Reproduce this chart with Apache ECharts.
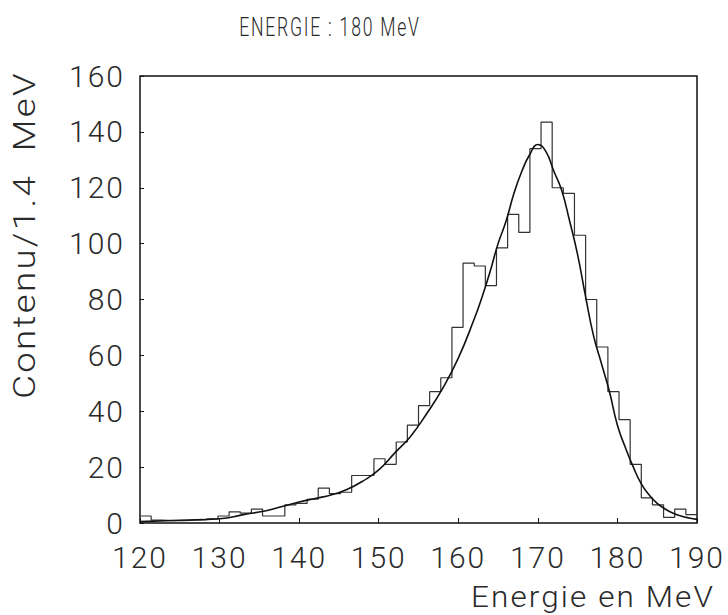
<!DOCTYPE html>
<html>
<head>
<meta charset="UTF-8" />
<title></title>
<style type="text/css">
  * { margin: 0; padding: 0; }
  #main { width: 728px; height: 615px; background-color: #fff; }
  /* espacement large des caracteres, comme sur le trace d'origine */
  #main text { letter-spacing: 2px; }
</style>
</head>
<body>
<div id="main"></div>
<script src="https://cdn.jsdelivr.net/npm/echarts@6/dist/echarts.min.js"></script>
<script type="text/javascript">
// histogramme : 50 canaux de 1.4 MeV a partir de 120 MeV
var binStart = 120
var binWidth = 1.4
var counts = [
  2.5, 1, 0.8, 0.8, 1, 1.2, 1.5, 2.5, 4, 3.5,
  5, 2.5, 2.5, 6.5, 7, 8.5, 12.5, 10.5, 11, 17,
  17, 23, 21, 29, 35, 42, 47, 52, 70, 93,
  92, 85, 98.5, 110.5, 104, 134, 143.5, 120, 118, 103,
  80, 63, 47, 37, 21, 9, 6.5, 2, 5, 3
]

// courbe d'ajustement
var fitX = [120, 125, 130, 133, 136, 138, 140, 142, 144, 146, 148, 150, 152, 154, 156, 158, 160,
  162, 163, 164, 165, 166, 167, 168, 169, 170, 171, 172, 173, 174, 175, 176, 177, 178, 179,
  180, 181, 182, 183, 184, 185, 186, 187, 188, 189, 190]
var fitY = [0.5, 1, 1.5, 3, 4.5, 6, 7.5, 8.8, 10, 12, 15, 19, 25, 31, 39, 48, 59,
  73, 81, 90, 100, 108, 118, 126, 132, 135.5, 133, 126, 119, 108, 96, 81, 67, 57, 47,
  35, 27, 20, 14, 10, 7, 5, 3.5, 2.5, 1.8, 1.3]

var xTicks = [120, 130, 140, 150, 160, 170, 180, 190]
var yTicks = [0, 20, 40, 60, 80, 100, 120, 140, 160]

var histData = counts.map(function (v, i) {
  return [binStart + i * binWidth, v]
})
histData.push([binStart + counts.length * binWidth, counts[counts.length - 1]])

var fitData = fitX.map(function (x, i) { return [x, fitY[i]] })

var font = 'Roboto'
var txt = '#2a2a2a'
var myChart = echarts.init(document.getElementById('main'), null, { renderer: 'svg' })

var option = {
  backgroundColor: '#fff',
  animation: false,
  grid: {
    left: 140, right: 31, top: 76, bottom: 92,
    show: true, borderColor: '#111', borderWidth: 1.5, backgroundColor: 'transparent'
  },
  xAxis: {
    type: 'value',
    min: xTicks[0],
    max: xTicks[xTicks.length - 1],
    interval: 10,
    axisLine: { show: false },
    axisTick: { show: true, inside: true, length: 5, lineStyle: { color: '#111' } },
    splitLine: { show: false },
    axisLabel: { margin: 19, fontFamily: font, fontWeight: 300, fontSize: 30, color: txt }
  },
  yAxis: {
    type: 'value',
    min: yTicks[0],
    max: yTicks[yTicks.length - 1],
    interval: 20,
    axisLine: { show: false },
    axisTick: { show: true, inside: true, length: 4, lineStyle: { color: '#111' } },
    splitLine: { show: false },
    axisLabel: { margin: 15, fontFamily: font, fontWeight: 300, fontSize: 30, color: txt }
  },
  graphic: [{
    // titre : lettres hautes et etroites
    type: 'text',
    x: 330, y: 27,
    scaleX: 0.88, scaleY: 1.25,
    style: {
      text: 'ENERGIE : 180 MeV',
      font: '300 20px ' + font,
      fill: txt,
      textAlign: 'center', textVerticalAlign: 'middle',
      align: 'center', verticalAlign: 'middle'
    }
  }, {
    type: 'text',
    x: 24, y: 235,
    rotation: Math.PI / 2,
    scaleX: 1.18,
    style: {
      text: 'Contenu/1.4  MeV',
      font: '300 31px ' + font,
      fill: txt,
      textAlign: 'center', textVerticalAlign: 'middle',
      align: 'center', verticalAlign: 'middle'
    }
  }, {
    type: 'text',
    x: 715, y: 597,
    scaleX: 1.05,
    style: {
      text: 'Energie en MeV',
      font: '300 30px ' + font,
      fill: txt,
      textAlign: 'right', textVerticalAlign: 'middle',
      align: 'right', verticalAlign: 'middle'
    }
  }],
  series: [{
    type: 'line',
    step: 'end',
    data: histData,
    symbol: 'none',
    lineStyle: { color: '#333', width: 1.2 }
  }, {
    type: 'line',
    smooth: true,
    data: fitData,
    symbol: 'none',
    lineStyle: { color: '#111', width: 1.6 }
  }]
}
myChart.setOption(option)
</script>
</body>
</html>
